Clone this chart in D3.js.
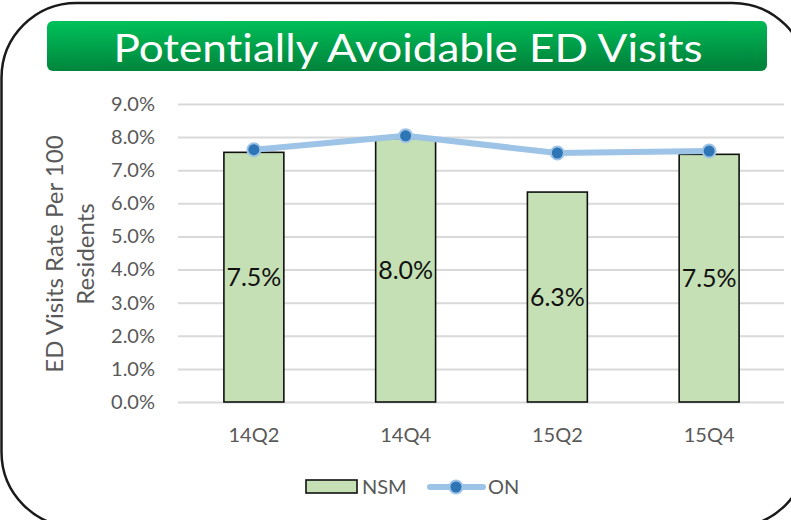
<!DOCTYPE html>
<html>
<head>
<meta charset="utf-8">
<script src="https://cdn.jsdelivr.net/npm/d3@7"></script>
<style>
  body { margin: 0; background: #fff; }
  svg { display: block; font-family: Lato, "Open Sans", sans-serif; }
</style>
</head>
<body>
<svg id="chart" width="791" height="520"></svg>
<script>

// chart data
var quarters = ["14Q2", "14Q4", "15Q2", "15Q4"]
var nsmValues = [7.54, 7.96, 6.34, 7.48]
var onValues = [7.62, 8.04, 7.52, 7.58]
var yTicks = [0, 1, 2, 3, 4, 5, 6, 7, 8, 9]
var seriesNames = ["NSM", "ON"]

var svg = d3.select("#chart")

var plotLeft = 178, plotRight = 785, plotTop = 104, plotBottom = 402

// outer rounded frame
svg.append("rect")
   .attr("x", 1.5).attr("y", 3)
   .attr("width", 806).attr("height", 524)
   .attr("rx", 75).attr("ry", 75)
   .attr("fill", "none")
   .attr("stroke", "#1a1a1a")
   .attr("stroke-width", 2.5)

// title banner
var defs = svg.append("defs")
var grad = defs.append("linearGradient")
   .attr("id", "titleGrad")
   .attr("x1", "0").attr("y1", "0").attr("x2", "0.15").attr("y2", "1")
grad.append("stop").attr("offset", "0%").attr("stop-color", "#00c25a")
grad.append("stop").attr("offset", "100%").attr("stop-color", "#00843c")

svg.append("rect")
   .attr("x", 47).attr("y", 21)
   .attr("width", 720).attr("height", 50)
   .attr("rx", 6)
   .attr("fill", "url(#titleGrad)")

svg.append("text")
   .attr("x", 408).attr("y", 62)
   .attr("text-anchor", "middle")
   .attr("fill", "#fff")
   .attr("font-size", 39)
   .attr("textLength", 589)
   .attr("lengthAdjust", "spacingAndGlyphs")
   .style("font-variant-ligatures", "none")
   .text("Potentially Avoidable ED Visits")

// scales
var x = d3.scaleBand()
   .domain(quarters)
   .range([plotLeft, plotRight])
   .paddingInner(0.605)
   .paddingOuter(0.3025)

var y = d3.scaleLinear()
   .domain([0, 9])
   .range([plotBottom, plotTop])

// gridlines
svg.append("g")
   .attr("transform", "translate(" + plotLeft + ",0)")
   .call(d3.axisLeft(y).tickValues(yTicks).tickSize(-(plotRight - plotLeft - 1)).tickFormat(""))
   .call(g => g.select(".domain").remove())
   .call(g => g.selectAll("line").attr("stroke", "#d9d9d9").attr("stroke-width", 2))

// y axis labels
svg.append("g")
   .attr("transform", "translate(" + plotLeft + ",0)")
   .call(d3.axisLeft(y).tickValues(yTicks).tickSize(0).tickPadding(23)
      .tickFormat(d => d3.format(".1f")(d) + "%"))
   .call(g => g.select(".domain").remove())
   .call(g => g.selectAll("text")
      .attr("font-family", "Lato")
      .attr("font-size", 20)
      .attr("fill", "#595959"))

// x axis labels
svg.append("g")
   .attr("transform", "translate(0," + plotBottom + ")")
   .call(d3.axisBottom(x).tickSize(0).tickPadding(26))
   .call(g => g.select(".domain").remove())
   .call(g => g.selectAll("text")
      .attr("font-family", "Lato")
      .attr("font-size", 20)
      .attr("fill", "#595959"))

// y axis title
var ytitle = svg.append("text")
   .attr("transform", "translate(54,254) rotate(-90)")
   .attr("text-anchor", "middle")
   .attr("font-size", 24)
   .attr("fill", "#595959")
ytitle.append("tspan").attr("x", 0).attr("dy", "0.36em").text("ED Visits Rate Per 100")
ytitle.append("tspan").attr("x", 0).attr("dy", 31).text("Residents")

// NSM bars
svg.append("g")
   .selectAll("rect")
   .data(nsmValues)
   .enter().append("rect")
   .attr("x", (d, i) => x(quarters[i]))
   .attr("y", d => y(d))
   .attr("width", x.bandwidth())
   .attr("height", d => y(0) - y(d))
   .attr("fill", "#c5e0b4")
   .attr("stroke", "#111")
   .attr("stroke-width", 1.6)

// ON line
var line = d3.line()
   .x((d, i) => x(quarters[i]) + x.bandwidth() / 2)
   .y(d => y(d))

svg.append("path")
   .datum(onValues)
   .attr("d", line)
   .attr("fill", "none")
   .attr("stroke", "#9dc3e6")
   .attr("stroke-width", 6)
   .attr("stroke-linejoin", "round")

svg.append("g")
   .selectAll("circle")
   .data(onValues)
   .enter().append("circle")
   .attr("cx", (d, i) => x(quarters[i]) + x.bandwidth() / 2)
   .attr("cy", d => y(d))
   .attr("r", 6.5)
   .attr("fill", "#2e75b6")
   .attr("stroke", "#9dc3e6")
   .attr("stroke-width", 2)

// data labels (centre of bars)
svg.append("g")
   .selectAll("text")
   .data(nsmValues)
   .enter().append("text")
   .attr("x", (d, i) => x(quarters[i]) + x.bandwidth() / 2)
   .attr("y", d => (y(d) + y(0)) / 2)
   .attr("dy", "0.36em")
   .attr("text-anchor", "middle")
   .attr("font-size", 25)
   .attr("fill", "#111")
   .text(d => d3.format(".1f")(d) + "%")

// legend
var legend = svg.append("g")

legend.append("rect")
   .attr("x", 306).attr("y", 480)
   .attr("width", 51).attr("height", 13)
   .attr("fill", "#c5e0b4")
   .attr("stroke", "#111")
   .attr("stroke-width", 1.6)

legend.append("text")
   .attr("x", 362).attr("y", 487)
   .attr("dy", "0.36em")
   .attr("font-size", 20)
   .attr("fill", "#595959")
   .text(seriesNames[0])

legend.append("line")
   .attr("x1", 430).attr("x2", 483)
   .attr("y1", 487).attr("y2", 487)
   .attr("stroke", "#9dc3e6")
   .attr("stroke-width", 6)
   .attr("stroke-linecap", "round")

legend.append("circle")
   .attr("cx", 456).attr("cy", 487)
   .attr("r", 6.5)
   .attr("fill", "#2e75b6")
   .attr("stroke", "#9dc3e6")
   .attr("stroke-width", 2)

legend.append("text")
   .attr("x", 488).attr("y", 487)
   .attr("dy", "0.36em")
   .attr("font-size", 20)
   .attr("fill", "#595959")
   .text(seriesNames[1])

</script>
</body>
</html>
